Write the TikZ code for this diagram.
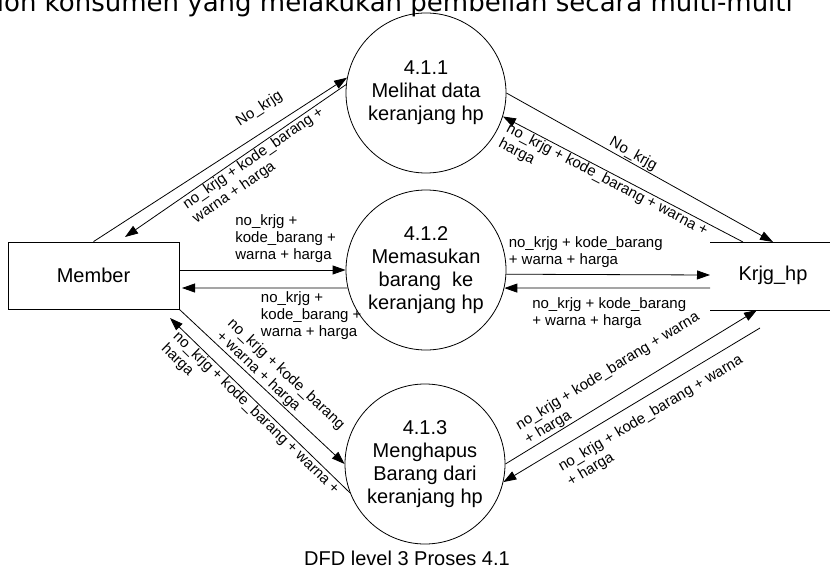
\documentclass[tikz,border=0pt]{standalone}
\usepackage{fontspec}
\setmainfont{Liberation Sans}
\newfontfamily\topfont{DejaVu Sans}
\usetikzlibrary{arrows.meta}
\begin{document}
\begin{tikzpicture}[x=1pt,y=-1pt,
  proc/.style={draw, circle, minimum size=160pt, inner sep=0pt, align=center,
    font=\fontsize{20}{23}\selectfont, line width=0.8pt},
  flow/.style={line width=0.8pt, -{Triangle[length=13pt,width=9pt]}},
  lab/.style={font=\fontsize{15}{17}\selectfont, align=left, inner sep=1pt},
  ent/.style={draw, line width=0.8pt, minimum width=171pt, minimum height=67pt,
    font=\fontsize{20}{23}\selectfont},
  storeline/.style={line width=0.8pt}
  ]
\useasboundingbox (0,0) rectangle (830,575);
\clip (0,0) rectangle (830,575);

% cut-off title
\node[anchor=base east, font=\topfont\fontsize{26}{30}\selectfont, inner sep=0pt] (title)
  at (793,12) {ion konsumen yang melakukan pembelian secara multi-multi};

% processes
\node[proc] (c1) at (426,93) {4.1.1\\Melihat data\\keranjang hp};
\node[proc] (c2) at (426,270) {4.1.2\\Memasukan\\barang\ \ ke\\keranjang hp};
\node[proc] (c3) at (425,464) {4.1.3\\Menghapus\\Barang dari\\keranjang hp};

% entity
\node[ent] (member) at (93.5,275.5) {Member};

% data store
\node[font=\fontsize{20}{23}\selectfont] (store) at (773,275) {Krjg\_hp};
\coordinate (stTL) at (710,242);
\coordinate (stTR) at (830,242);
\coordinate (stBL) at (710,310);
\coordinate (stBR) at (830,310);
\draw[storeline] (stTL) -- (stTR);
\draw[storeline] (stBL) -- (stBR);

% connector end points
\coordinate (m2) at (125,237);
\coordinate (m5) at (179,270);
\coordinate (m6) at (182,288);
\coordinate (m10) at (170,318);
\coordinate (s3) at (773,242);
\coordinate (s4) at (743,242);
\coordinate (s7) at (710,275);
\coordinate (s8) at (710,288);
\coordinate (s11) at (757,310);
\coordinate (s12) at (760,328);

% Member <-> 4.1.1
\draw[flow] (member.north) -- node[lab, sloped, above=13pt, pos=0.7] {No\_krjg} (c1.169.5);
\draw[flow] (c1.174) -- node[lab, sloped, below, pos=0.44] {no\_krjg + kode\_barang +\\warna + harga} (m2);

% 4.1.1 <-> Krjg_hp
\draw[flow] (c1.0) -- node[lab, sloped, above, pos=0.46] {No\_krjg} (s3);
\draw[flow] (s4) -- node[lab, sloped, below, pos=0.55] {no\_krjg + kode\_barang + warna +\\harga} (c1.-17);

% Member <-> 4.1.2
\draw[flow] (m5) -- node[lab, above=6pt, pos=0.64] {no\_krjg +\\kode\_barang +\\warna + harga} (c2.180);
\draw[flow] (c2.193) -- node[lab, below=2pt, pos=0.22] {no\_krjg +\\kode\_barang +\\warna + harga} (m6);

% 4.1.2 <-> Krjg_hp
\draw[flow] (c2.-3.5) -- node[lab, above=6pt, pos=0.39] {no\_krjg + kode\_barang\\+ warna + harga} (s7);
\draw[flow] (s8) -- node[lab, below=8pt, pos=0.49] {no\_krjg + kode\_barang\\+ warna + harga} (c2.-13);

% Member <-> 4.1.3
\draw[flow] (member.south east) -- node[lab, sloped, above, pos=0.54] {no\_krjg + kode\_barang\\+ warna + harga} (c3.180);
\draw[flow] (c3.201) -- node[lab, sloped, below, pos=0.49] {no\_krjg + kode\_barang + warna +\\harga} (m10);

% 4.1.3 <-> Krjg_hp
\draw[flow] (c3.0) -- node[lab, sloped, above, pos=0.46] {no\_krjg + kode\_barang + warna\\+ harga} (s11);
\draw[flow] (s12) -- node[lab, sloped, below=9pt, pos=0.46] {no\_krjg + kode\_barang + warna\\+ harga} (c3.-13);

% caption
\node[font=\fontsize{20}{24}\selectfont] (cap) at (407,558) {DFD level 3 Proses 4.1};
\end{tikzpicture}
\end{document}
